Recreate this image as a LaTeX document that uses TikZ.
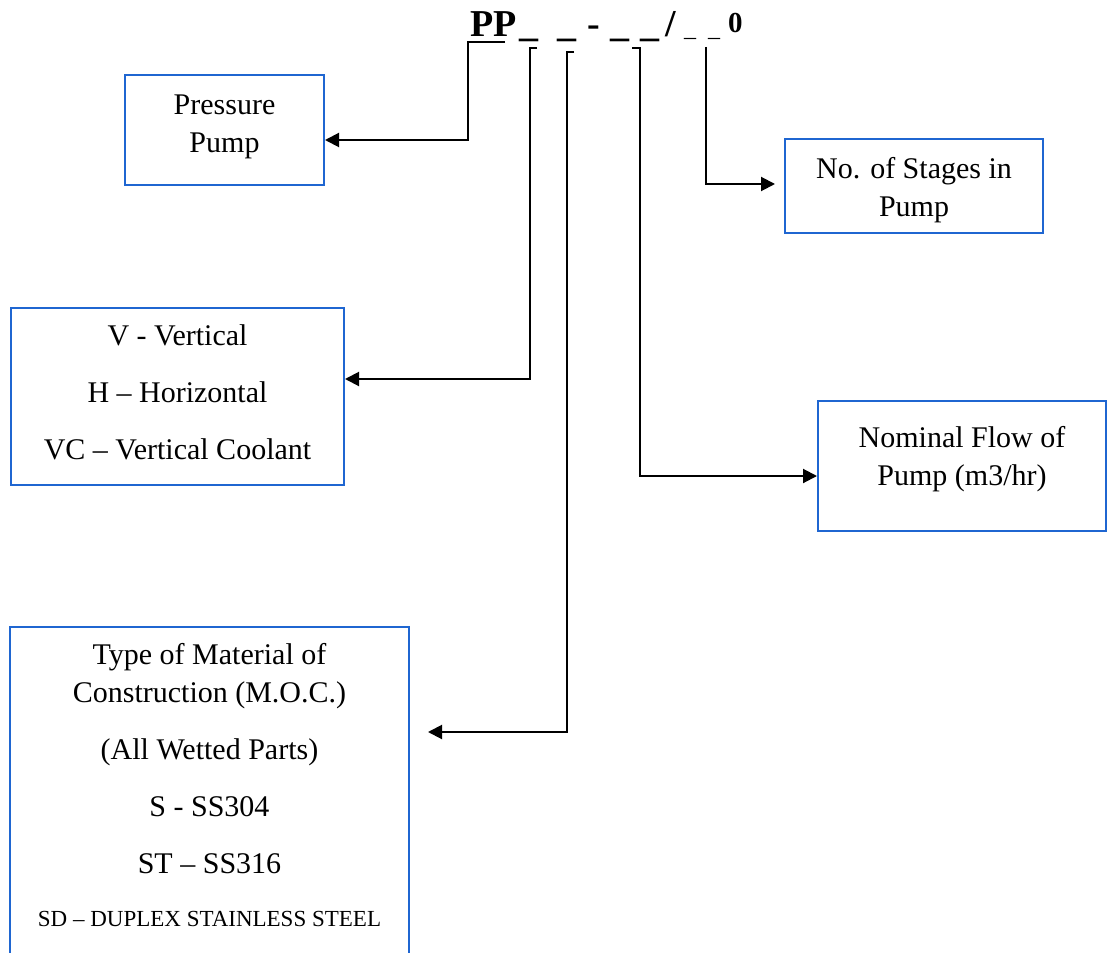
\documentclass[tikz,border=0pt]{standalone}
\usepackage{fontspec}
\setmainfont{Liberation Serif}
\usetikzlibrary{positioning, arrows.meta}

\begin{document}
\begin{tikzpicture}[x=0.5pt, y=-0.5pt, every node/.style={font=\fontsize{15}{19}\selectfont}]
    % Define colors
    \definecolor{boxcolor}{RGB}{31,102,209}
    \tikzset{
        codebox/.style={draw=boxcolor, line width=1pt, align=center, inner sep=0pt},
        link/.style={draw=black, line width=1pt, -{Triangle[length=7pt, width=7pt]}}
    }
    \useasboundingbox (0,0) rectangle (1107,952);
    \clip (0,0) rectangle (1107,952);

    % Model code
    \node[anchor=base west, inner sep=0pt] (code) at (470,37) {%
        {\fontsize{19}{20}\selectfont\bfseries PP\kern1.5pt\_\kern9.5pt\_\kern5.5pt-\kern5pt\_\kern5.5pt\_\kern3pt/}%
        {\fontsize{12}{14}\selectfont\kern4pt\_\kern6pt\_}%
        {\fontsize{14.5}{14}\selectfont\bfseries\kern4pt\raisebox{2pt}{0}}};

    % Boxes
    \node[codebox, minimum width=99.5pt, minimum height=55pt] (pump) at (224.5,130) {Pressure\\Pump\\[-13pt]};
    \node[codebox, minimum width=129pt, minimum height=47pt] (stages) at (914,186) {\mbox{}\\[-4.5pt]No. of Stages in\\Pump};
    \node[codebox, minimum width=166.5pt, minimum height=88.5pt] (mount) at (177.5,396.5)
        {V - Vertical\\[9.5pt]H – Horizontal\\[9.5pt]VC – Vertical Coolant\\[-15pt]};
    \node[codebox, minimum width=144pt, minimum height=65pt] (flow) at (962,466) {Nominal Flow of\\Pump (m3/hr)\\[-9pt]};
    \node[codebox, anchor=north, minimum width=199.5pt, inner ysep=8pt] (moc) at (209.5,626)
        {Type of Material of\\Construction (M.O.C.)\\[9.5pt](All Wetted Parts)\\[9.5pt]S - SS304\\[9.5pt]ST – SS316\\[7.5pt]
         {\fontsize{11.5}{19}\selectfont SD – DUPLEX STAINLESS STEEL}\\[40pt]};

    % Connector ends
    \coordinate (ppend) at (505,42);
    \coordinate (pptop) at (468,42);
    \coordinate (mtick) at (537,48);
    \coordinate (mtop) at (530,48);
    \coordinate (ctick) at (574,52);
    \coordinate (ctop) at (567,52);
    \coordinate (ftick) at (632,48);
    \coordinate (ftop) at (640,48);
    \coordinate (stop) at (706,47);
    \coordinate (mocin) at (428,732);
    \coordinate (stagesin) at (775,184);

    % Connectors
    \draw[link] (ppend) -- (pptop) |- ([yshift=-5pt]pump.east);
    \draw[link] (mtick) -- (mtop) |- ([yshift=8.75pt]mount.east);
    \draw[link] (ctick) -- (ctop) |- (mocin);
    \draw[link] (ftick) -- (ftop) |- ([yshift=-5pt]flow.west);
    \draw[link] (stop) |- (stagesin);

\end{tikzpicture}
\end{document}
